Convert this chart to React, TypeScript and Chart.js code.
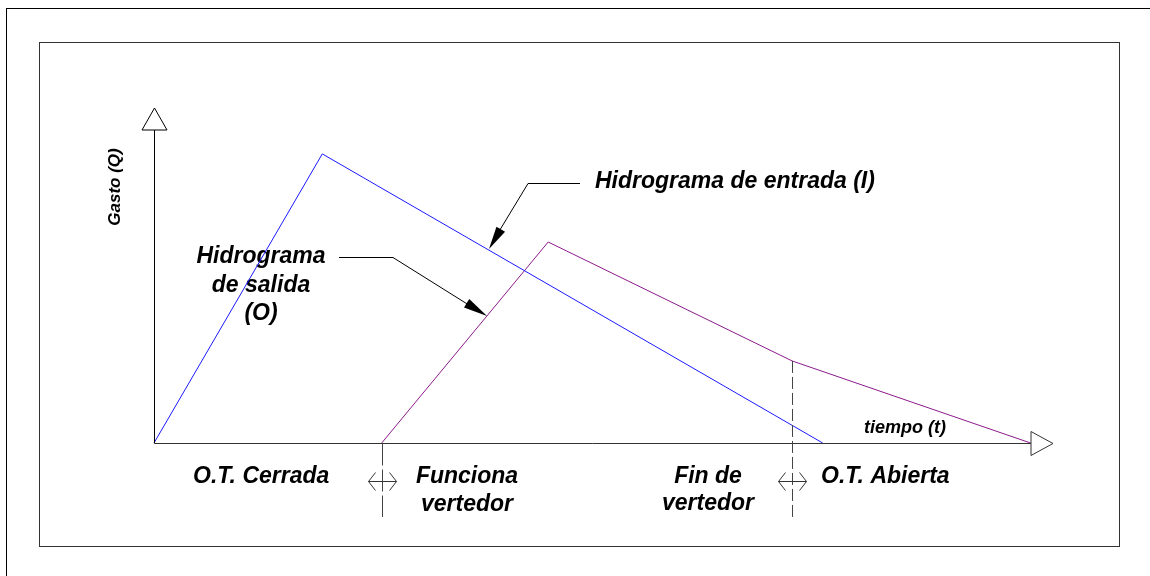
import React, { useEffect, useRef } from "react";
import { Chart, registerables } from "chart.js";

Chart.register(...registerables);

// Hydrograph values (time units, discharge units)
const inflowT = [0, 18.7, 74.3];
const inflowQ = [0, 86.3, 0];
const outflowT = [25.3, 43.8, 70.9, 97.4];
const outflowQ = [0, 60.0, 24.5, 0];

const inflowLabel = "Hidrograma de entrada (I)";
const outflowLabel = ["Hidrograma", "de salida", "(O)"];
const yTitle = "Gasto (Q)";
const xTitle = "tiempo (t)";
const phaseLabels = {
  closed: ["O.T. Cerrada"],
  spill: ["Funciona", "vertedor"],
  spillEnd: ["Fin de", "vertedor"],
  open: ["O.T. Abierta"],
};

const FONT = "'Liberation Sans', Arial, Helvetica, sans-serif";

function filledArrow(ctx: CanvasRenderingContext2D, fx: number, fy: number, tx: number, ty: number, len: number, hw: number) {
  const dx = tx - fx, dy = ty - fy;
  const d = Math.hypot(dx, dy);
  const ux = dx / d, uy = dy / d;
  const bx = tx - ux * len, by = ty - uy * len;
  ctx.beginPath();
  ctx.moveTo(tx, ty);
  ctx.lineTo(bx - uy * hw, by + ux * hw);
  ctx.lineTo(bx + uy * hw, by - ux * hw);
  ctx.closePath();
  ctx.fillStyle = "#000";
  ctx.fill();
}

function doubleArrow(ctx: CanvasRenderingContext2D, cx: number, cy: number) {
  ctx.save();
  ctx.strokeStyle = "#333";
  ctx.lineWidth = 1;
  ctx.setLineDash([]);
  ctx.beginPath();
  ctx.moveTo(cx - 14, cy);
  ctx.lineTo(cx + 14, cy);
  ctx.moveTo(cx - 7, cy - 9);
  ctx.lineTo(cx - 14, cy);
  ctx.lineTo(cx - 7, cy + 9);
  ctx.moveTo(cx + 7, cy - 9);
  ctx.lineTo(cx + 14, cy);
  ctx.lineTo(cx + 7, cy + 9);
  ctx.stroke();
  ctx.restore();
}

const decorPlugin = {
  id: "decor",
  beforeDatasetsDraw(chart: any) {
    const ctx: CanvasRenderingContext2D = chart.ctx;
    ctx.save();
    // frames
    ctx.strokeStyle = "#000";
    ctx.lineWidth = 1;
    ctx.strokeRect(6.5, 8.5, 1200, 700);
    ctx.strokeStyle = "#333";
    ctx.strokeRect(39.5, 42.5, 1080, 504);

    ctx.fillStyle = "#000";
    ctx.textBaseline = "alphabetic";
    ctx.font = `italic bold 23px ${FONT}`;
    ctx.textAlign = "left";
    ctx.fillText(inflowLabel, 595, 188);
    ctx.textAlign = "center";
    outflowLabel.forEach((t, i) => ctx.fillText(t, 261, 263 + i * 28.5));

    ctx.textAlign = "left";
    ctx.fillText(phaseLabels.closed[0], 193, 483);
    ctx.fillText(phaseLabels.open[0], 821, 483);
    ctx.textAlign = "center";
    phaseLabels.spill.forEach((t, i) => ctx.fillText(t, 467, 483 + i * 28));
    phaseLabels.spillEnd.forEach((t, i) => ctx.fillText(t, 708, 483 + i * 27));

    ctx.font = `italic bold 18px ${FONT}`;
    ctx.textAlign = "left";
    ctx.fillText(xTitle, 864, 433);

    ctx.save();
    ctx.translate(120, 187);
    ctx.rotate(-Math.PI / 2);
    ctx.font = `italic bold 17px ${FONT}`;
    ctx.textAlign = "center";
    ctx.fillText(yTitle, 0, 0);
    ctx.restore();
    ctx.restore();
  },
  afterDatasetsDraw(chart: any) {
    const ctx: CanvasRenderingContext2D = chart.ctx;
    const xs = chart.scales.x, ys = chart.scales.y;
    const ca = chart.chartArea;
    const ox = Math.round(xs.getPixelForValue(0)) + 0.5;
    const oy = Math.round(ys.getPixelForValue(0)) + 0.5;
    ctx.save();
    ctx.lineWidth = 1;
    // y axis
    ctx.strokeStyle = "#000";
    ctx.beginPath();
    ctx.moveTo(ox, oy);
    ctx.lineTo(ox, ca.top + 22);
    ctx.stroke();
    ctx.beginPath();
    ctx.moveTo(ox, ca.top);
    ctx.lineTo(ox - 12.5, ca.top + 22);
    ctx.lineTo(ox + 12.5, ca.top + 22);
    ctx.closePath();
    ctx.stroke();
    // x axis
    ctx.strokeStyle = "#333";
    ctx.beginPath();
    ctx.moveTo(ox, oy);
    ctx.lineTo(ca.right - 23, oy);
    ctx.stroke();
    ctx.beginPath();
    ctx.moveTo(ca.right - 1, oy);
    ctx.lineTo(ca.right - 23, oy - 12);
    ctx.lineTo(ca.right - 23, oy + 12);
    ctx.closePath();
    ctx.stroke();

    // dashed verticals
    const x1 = Math.round(xs.getPixelForValue(outflowT[0])) + 0.5;
    const x2 = Math.round(xs.getPixelForValue(outflowT[2])) + 0.5;
    const y2 = ys.getPixelForValue(outflowQ[2]);
    ctx.strokeStyle = "#444";
    ctx.setLineDash([22, 4]);
    ctx.beginPath();
    ctx.moveTo(x1, oy);
    ctx.lineTo(x1, 517);
    ctx.stroke();
    ctx.setLineDash([12, 4]);
    ctx.beginPath();
    ctx.moveTo(x2, y2);
    ctx.lineTo(x2, 517);
    ctx.stroke();
    ctx.setLineDash([]);
    doubleArrow(ctx, x1, 481.5);
    doubleArrow(ctx, x2, 481.5);

    // leader arrows
    ctx.strokeStyle = "#000";
    ctx.beginPath();
    ctx.moveTo(580, 183.5);
    ctx.lineTo(528, 183.5);
    ctx.lineTo(492, 243);
    ctx.stroke();
    filledArrow(ctx, 528, 183.5, 489, 249, 23, 5);
    ctx.beginPath();
    ctx.moveTo(339, 257.5);
    ctx.lineTo(393, 257.5);
    ctx.lineTo(480, 312);
    ctx.stroke();
    filledArrow(ctx, 393, 257.5, 487, 316, 24, 5);
    ctx.restore();
  },
};

export default function App() {
  const ref = useRef<HTMLCanvasElement | null>(null);
  useEffect(() => {
    if (!ref.current) return;
    const chart = new Chart(ref.current, {
      type: "scatter",
      data: {
        datasets: [
          {
            label: "Entrada",
            data: inflowT.map((t, i) => ({ x: t, y: inflowQ[i] })),
            showLine: true,
            borderColor: "#1a1aff",
            borderWidth: 1,
            pointRadius: 0,
            tension: 0,
            clip: false as any,
          },
          {
            label: "Salida",
            data: outflowT.map((t, i) => ({ x: t, y: outflowQ[i] })),
            showLine: true,
            borderColor: "#8b1a8b",
            borderWidth: 1,
            pointRadius: 0,
            tension: 0,
            clip: false as any,
          },
        ],
      },
      options: {
        responsive: false,
        animation: false,
        devicePixelRatio: 1,
        layout: { padding: { left: 154, right: 96, top: 108, bottom: 133 } },
        scales: {
          x: { type: "linear", min: 0, max: 100, display: false },
          y: { type: "linear", min: 0, max: 100, display: false },
        },
        plugins: { legend: { display: false }, tooltip: { enabled: false } },
        events: [],
      },
      plugins: [decorPlugin],
    });
    return () => chart.destroy();
  }, []);
  return (
    <div style={{ position: "absolute", left: 0, top: 0, width: 1150, height: 576, background: "#fff" }}>
      <canvas ref={ref} width={1150} height={576} />
    </div>
  );
}
